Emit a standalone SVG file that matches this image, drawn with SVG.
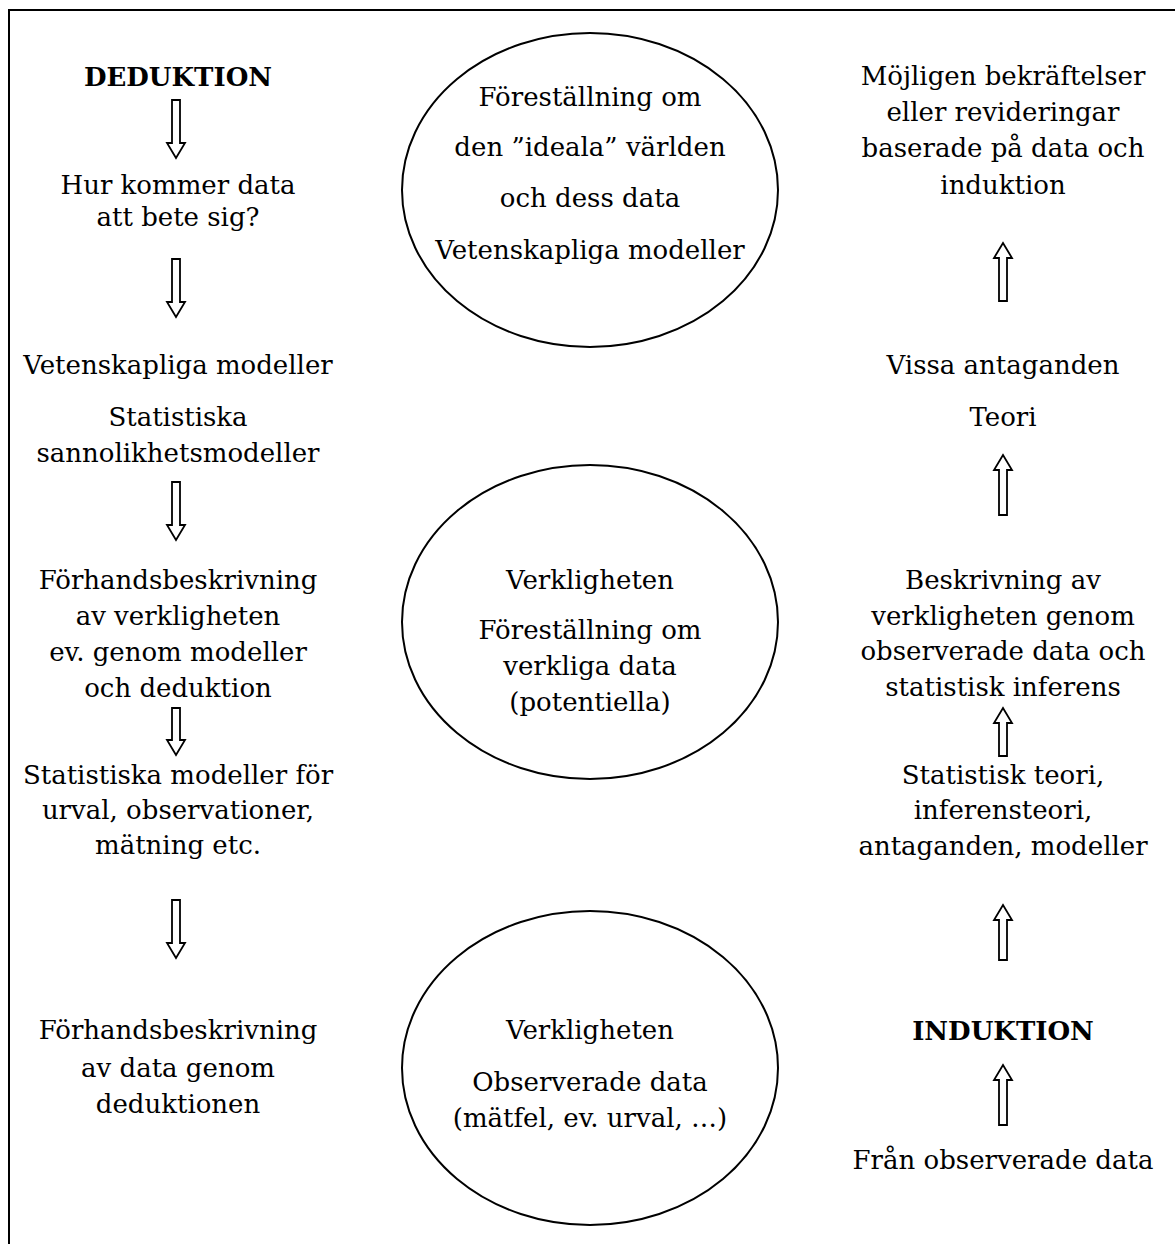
<svg xmlns="http://www.w3.org/2000/svg" width="1175" height="1244" viewBox="0 0 1175 1244">
<style>
text{font-family:"DejaVu Serif","Liberation Serif",serif;font-size:26px;fill:#000;text-anchor:middle}
.b{font-weight:bold}
.el{fill:#fff;stroke:#000;stroke-width:2}
.ar{fill:#fff;stroke:#000;stroke-width:1.8}
</style>
<rect width="1175" height="1244" fill="#fff"/>
<path d="M9,1244V10H1175" fill="none" stroke="#000" stroke-width="2"/>
<g id="connectors">
<polygon class="ar" points="172,100 180,100 180,143 185,143 176,158 167,143 172,143"/>
<polygon class="ar" points="172,259 180,259 180,302 185,302 176,317 167,302 172,302"/>
<polygon class="ar" points="172,482 180,482 180,525 185,525 176,540 167,525 172,525"/>
<polygon class="ar" points="172,708 180,708 180,740 185,740 176,755 167,740 172,740"/>
<polygon class="ar" points="172,900 180,900 180,943 185,943 176,958 167,943 172,943"/>
<polygon class="ar" points="999,301 1007,301 1007,258 1012,258 1003,243 994,258 999,258"/>
<polygon class="ar" points="999,515 1007,515 1007,470 1012,470 1003,455 994,470 999,470"/>
<polygon class="ar" points="999,756 1007,756 1007,723 1012,723 1003,708 994,723 999,723"/>
<polygon class="ar" points="999,960 1007,960 1007,920 1012,920 1003,905 994,920 999,920"/>
<polygon class="ar" points="999,1125 1007,1125 1007,1080 1012,1080 1003,1065 994,1080 999,1080"/>
</g>
<g id="ellipse1">
<ellipse class="el" cx="590" cy="190" rx="188" ry="157"/>
<text x="590" y="106">Föreställning om</text>
<text x="590" y="156">den ”ideala” världen</text>
<text x="590" y="207">och dess data</text>
<text x="590" y="259">Vetenskapliga modeller</text>
</g>
<g id="ellipse2">
<ellipse class="el" cx="590" cy="622" rx="188" ry="157"/>
<text x="590" y="589">Verkligheten</text>
<text x="590" y="639">Föreställning om</text>
<text x="590" y="675">verkliga data</text>
<text x="590" y="711">(potentiella)</text>
</g>
<g id="ellipse3">
<ellipse class="el" cx="590" cy="1068" rx="188" ry="157"/>
<text x="590" y="1039">Verkligheten</text>
<text x="590" y="1091">Observerade data</text>
<text x="590" y="1127">(mätfel, ev. urval, …)</text>
</g>
<g id="deduktion"><text class="b" x="178" y="86">DEDUKTION</text></g>
<g id="hur"><text x="178" y="194">Hur kommer data</text><text x="178" y="226">att bete sig?</text></g>
<g id="vetmod"><text x="178" y="374">Vetenskapliga modeller</text><text x="178" y="426">Statistiska</text><text x="178" y="462">sannolikhetsmodeller</text></g>
<g id="forhand1"><text x="178" y="589">Förhandsbeskrivning</text><text x="178" y="625">av verkligheten</text><text x="178" y="661">ev. genom modeller</text><text x="178" y="697">och deduktion</text></g>
<g id="statmod"><text x="178" y="784">Statistiska modeller för</text><text x="178" y="819">urval, observationer,</text><text x="178" y="854">mätning etc.</text></g>
<g id="forhand2"><text x="178" y="1039">Förhandsbeskrivning</text><text x="178" y="1077">av data genom</text><text x="178" y="1113">deduktionen</text></g>
<g id="mojligen"><text x="1003" y="85">Möjligen bekräftelser</text><text x="1003" y="121">eller revideringar</text><text x="1003" y="157">baserade på data och</text><text x="1003" y="194">induktion</text></g>
<g id="teori"><text x="1003" y="374">Vissa antaganden</text><text x="1003" y="426">Teori</text></g>
<g id="beskr"><text x="1003" y="589">Beskrivning av</text><text x="1003" y="625">verkligheten genom</text><text x="1003" y="660">observerade data och</text><text x="1003" y="696">statistisk inferens</text></g>
<g id="stateori"><text x="1003" y="784">Statistisk teori,</text><text x="1003" y="819">inferensteori,</text><text x="1003" y="855">antaganden, modeller</text></g>
<g id="induktion"><text class="b" x="1003" y="1040">INDUKTION</text></g>
<g id="fran"><text x="1003" y="1169">Från observerade data</text></g>
</svg>
